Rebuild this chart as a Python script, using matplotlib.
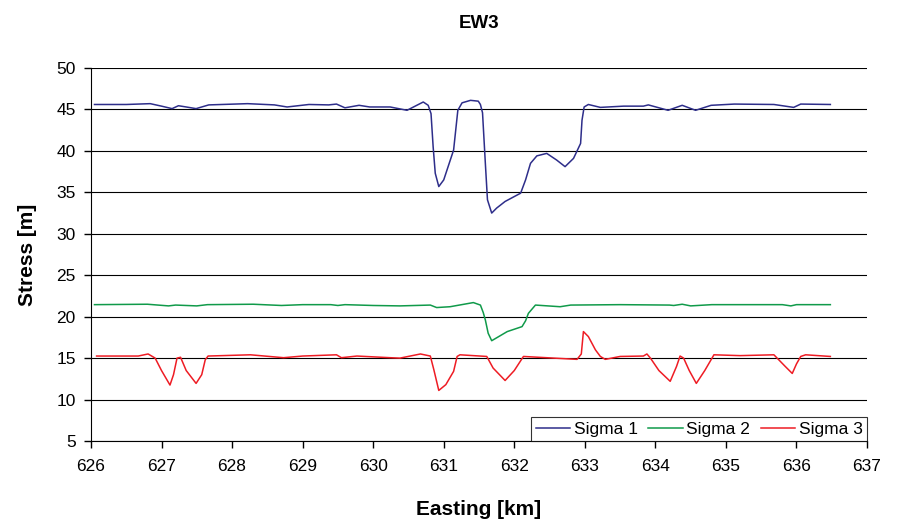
import matplotlib
matplotlib.use("Agg")
import matplotlib.pyplot as plt

plt.rcParams["font.family"] = ["Liberation Sans", "DejaVu Sans"]

# Sigma 1
e1 = [626.05, 626.5, 626.84, 627.0, 627.15, 627.24, 627.35, 627.49, 627.67, 628.22,
      628.6, 628.78, 629.09, 629.37, 629.48, 629.6, 629.8, 629.95, 630.24, 630.48,
      630.71, 630.78, 630.82, 630.85, 630.88, 630.93, 631.0, 631.14, 631.17, 631.2,
      631.26, 631.38, 631.49, 631.52, 631.55, 631.59, 631.62, 631.68, 631.75, 631.87,
      632.09, 632.16, 632.23, 632.32, 632.46, 632.6, 632.72, 632.84, 632.94, 632.96,
      632.99, 633.05, 633.22, 633.55, 633.83, 633.9, 634.18, 634.38, 634.57, 634.79,
      635.12, 635.68, 635.96, 636.06, 636.48]
s1 = [45.6, 45.6, 45.7, 45.4, 45.1, 45.45, 45.3, 45.1, 45.55, 45.7,
      45.55, 45.3, 45.6, 45.55, 45.65, 45.2, 45.5, 45.3, 45.3, 44.9,
      45.9, 45.5, 44.5, 40.5, 37.3, 35.7, 36.5, 40.1, 42.5, 44.9,
      45.8, 46.1, 46.0, 45.6, 44.6, 38.5, 34.1, 32.5, 33.1, 33.9,
      34.9, 36.5, 38.5, 39.4, 39.7, 38.9, 38.1, 39.1, 40.9, 43.7,
      45.3, 45.6, 45.25, 45.4, 45.4, 45.55, 44.9, 45.5, 44.9, 45.5,
      45.65, 45.6, 45.25, 45.65, 45.6]

# Sigma 2
e2 = [626.05, 626.8, 627.1, 627.2, 627.5, 627.65, 628.3, 628.7, 629.0, 629.4,
      629.5, 629.6, 630.0, 630.38, 630.81, 630.9, 631.09, 631.42, 631.52, 631.56,
      631.59, 631.63, 631.68, 631.78, 631.9, 632.11, 632.16, 632.2, 632.3, 632.65,
      632.8, 633.5, 634.2, 634.26, 634.38, 634.5, 634.8, 635.8, 635.92, 636.0,
      636.48]
s2 = [21.45, 21.5, 21.3, 21.4, 21.3, 21.45, 21.5, 21.35, 21.45, 21.45,
      21.35, 21.45, 21.35, 21.3, 21.4, 21.1, 21.2, 21.7, 21.4, 20.5,
      19.6, 18.0, 17.1, 17.6, 18.2, 18.8, 19.5, 20.4, 21.4, 21.2,
      21.4, 21.45, 21.4, 21.35, 21.5, 21.3, 21.45, 21.45, 21.3, 21.45,
      21.45]

# Sigma 3
e3 = [626.08, 626.67, 626.81, 626.91, 627.0, 627.12, 627.17, 627.22, 627.27, 627.35,
      627.49, 627.57, 627.62, 627.66, 628.26, 628.73, 629.0, 629.48, 629.55, 629.77,
      630.24, 630.38, 630.67, 630.81, 630.86, 630.93, 631.03, 631.14, 631.19, 631.23,
      631.61, 631.7, 631.87, 632.0, 632.13, 632.89, 632.95, 632.98, 633.05, 633.15,
      633.22, 633.29, 633.5, 633.83, 633.88, 633.93, 634.05, 634.21, 634.3, 634.35,
      634.4, 634.48, 634.58, 634.7, 634.83, 635.2, 635.68, 635.72, 635.84, 635.94,
      636.0, 636.06, 636.13, 636.48]
s3 = [15.25, 15.25, 15.5, 15.0, 13.5, 11.75, 13.0, 15.0, 15.1, 13.5,
      11.95, 13.0, 14.8, 15.25, 15.4, 15.05, 15.25, 15.4, 15.05, 15.25,
      15.05, 15.0, 15.5, 15.25, 13.6, 11.1, 11.8, 13.4, 15.2, 15.4,
      15.2, 13.8, 12.3, 13.5, 15.2, 14.85, 15.5, 18.2, 17.6, 16.0,
      15.2, 14.85, 15.2, 15.25, 15.5, 15.0, 13.5, 12.2, 14.0, 15.25,
      15.0, 13.5, 11.95, 13.5, 15.4, 15.3, 15.4, 15.05, 14.0, 13.15,
      14.3, 15.2, 15.4, 15.2]

x_ticks = list(range(626, 638))
y_ticks = list(range(5, 51, 5))

fig = plt.figure(figsize=(8.97, 5.24), dpi=100)
ax = fig.add_axes([0.1014, 0.1584, 0.8652, 0.7118])

ax.plot(e1, s1, color="#2e2e8a", lw=1.1, label="Sigma 1", solid_joinstyle="round")
ax.plot(e2, s2, color="#109a4a", lw=1.1, label="Sigma 2", solid_joinstyle="round")
ax.plot(e3, s3, color="#ee1c24", lw=1.1, label="Sigma 3", solid_joinstyle="round")

ax.set_xlim(626, 637)
ax.set_ylim(5, 50)
ax.set_xticks(x_ticks)
ax.set_yticks(y_ticks)
ax.yaxis.grid(True, color="black", lw=0.8)
ax.set_axisbelow(True)
for side in ["top", "right"]:
    ax.spines[side].set_visible(False)
ax.tick_params(axis="both", labelsize=12.5, length=5, width=1, direction="out")
ax.tick_params(axis="x", pad=8)
ax.tick_params(axis="y", pad=6)

ax.set_title("EW3", fontsize=13.5, fontweight="bold", pad=29)
ax.set_xlabel("Easting [km]", fontsize=15, fontweight="bold", labelpad=19)
ax.set_ylabel("Stress [m]", fontsize=15, fontweight="bold", labelpad=14)

leg = ax.legend(loc="lower right", bbox_to_anchor=(1.0, 0.0), ncol=3, fontsize=12.5,
                frameon=True, fancybox=False, borderaxespad=0, handlelength=2.0,
                handletextpad=0.2, columnspacing=0.6, borderpad=0.25)
leg.get_frame().set_edgecolor("black")
leg.get_frame().set_linewidth(0.8)

fig.savefig("out.png", dpi=100)
